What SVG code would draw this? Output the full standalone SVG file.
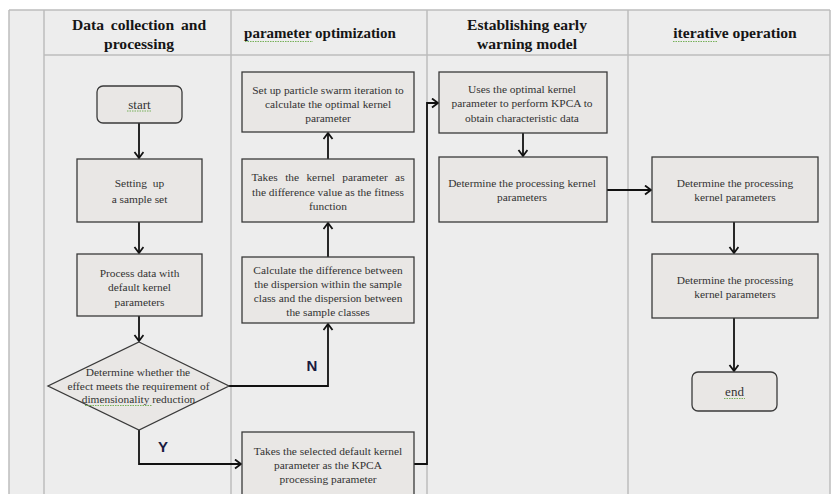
<svg xmlns="http://www.w3.org/2000/svg" width="834" height="494" viewBox="0 0 834 494">
<defs>
<style>
.bg{fill:#ededed}
.grid{stroke:#bdbdbd;stroke-width:1.5;fill:none}
.hdr{font-family:"Liberation Serif","Times New Roman",serif;font-weight:bold;font-size:15.6px;fill:#151515;text-anchor:middle}
.box{fill:#e9e7e5;stroke:#3a3a3a;stroke-width:1.3}
.t{font-family:"Liberation Serif","Times New Roman",serif;font-size:11.4px;fill:#333;text-anchor:middle}
.se{font-size:13px}
.yn{font-family:"Liberation Sans Narrow","Liberation Sans",Arial,sans-serif;font-weight:bold;font-size:15px;fill:#1a1a40;text-anchor:middle}
.c{fill:none;stroke:#111;stroke-width:1.8;marker-end:url(#ah)}
.sq{fill:none;stroke:#6aaa4a;stroke-width:0.9;stroke-dasharray:1.5 1}
</style>
<marker id="ah" markerUnits="userSpaceOnUse" markerWidth="12" markerHeight="12" refX="7" refY="5" orient="auto">
<path d="M1,0.5 L7,5 L1,9.5" fill="none" stroke="#111" stroke-width="1.8"/>
</marker>
</defs>
<rect x="0" y="0" width="834" height="494" fill="#ffffff"/>
<rect class="bg" x="9" y="10" width="821" height="484"/>
<g id="lanes">
<path class="grid" d="M9,10 H830 M9,10 V494 M830,10 V494 M44,10 V494 M231,10 V494 M427,10 V494 M628,10 V494 M44,55 H830"/>
<text class="hdr" x="139" y="30" word-spacing="3">Data collection and</text>
<text class="hdr" x="139" y="49">processing</text>
<text class="hdr" x="320" y="38" style="font-size:15px">parameter optimization</text>
<text class="hdr" x="527" y="30">Establishing early</text>
<text class="hdr" x="527" y="49">warning model</text>
<text class="hdr" x="735" y="38">iterative operation</text>
</g>
<g id="connectors">
<path class="c" d="M139,123 V158"/>
<path class="c" d="M139,222 V253"/>
<path class="c" d="M139,316 V341"/>
<path class="c" d="M229,386 H328 V324"/>
<path class="c" d="M139,430 V464 H241"/>
<path class="c" d="M328,257 V223"/>
<path class="c" d="M328,159 V133"/>
<path class="c" d="M414,464 H427 V103 H438"/>
<path class="c" d="M523,133 V156"/>
<path class="c" d="M607,190 H651"/>
<path class="c" d="M734,222 V253"/>
<path class="c" d="M734,318 V371"/>
<text class="yn" x="312" y="371">N</text>
<text class="yn" x="163" y="452">Y</text>
</g>
<g id="start">
<rect class="box" x="97" y="86" width="85" height="37" rx="6"/>
<text class="t se" x="139.5" y="108.5">start</text>
</g>
<g id="sampleset">
<rect class="box" x="77" y="159" width="125" height="63"/>
<text class="t" x="139.5" y="186.5" word-spacing="3">Setting up</text>
<text class="t" x="139.5" y="202.5">a sample set</text>
</g>
<g id="process">
<rect class="box" x="77" y="254" width="125" height="62"/>
<text class="t" x="139.5" y="277">Process data with</text>
<text class="t" x="139.5" y="291">default kernel</text>
<text class="t" x="139.5" y="306">parameters</text>
</g>
<g id="decision">
<polygon class="box" points="139,342 229,386 139,430 48,386"/>
<text class="t" x="138" y="376">Determine whether the</text>
<text class="t" x="138.5" y="389.5">effect meets the requirement of</text>
<text class="t" x="138.5" y="403">dimensionality reduction</text>
</g>
<g id="pso">
<rect class="box" x="242" y="72" width="172" height="60"/>
<text class="t" x="328" y="94">Set up particle swarm iteration to</text>
<text class="t" x="328" y="107.5">calculate the optimal kernel</text>
<text class="t" x="328" y="122">parameter</text>
</g>
<g id="fitness">
<rect class="box" x="242" y="159" width="172" height="63"/>
<text class="t" x="328" y="181" word-spacing="4.5">Takes the kernel parameter as</text>
<text class="t" x="328" y="196">the difference value as the fitness</text>
<text class="t" x="328" y="209.5">function</text>
</g>
<g id="calc">
<rect class="box" x="242" y="257" width="172" height="66"/>
<text class="t" x="328" y="274">Calculate the difference between</text>
<text class="t" x="328" y="288">the dispersion within the sample</text>
<text class="t" x="328" y="302">class and the dispersion between</text>
<text class="t" x="328" y="316">the sample classes</text>
</g>
<g id="default">
<rect class="box" x="242" y="432" width="172" height="70"/>
<text class="t" x="328" y="455">Takes the selected default kernel</text>
<text class="t" x="328" y="468.5">parameter as the KPCA</text>
<text class="t" x="328" y="483">processing parameter</text>
</g>
<g id="kpca">
<rect class="box" x="439" y="72" width="168" height="61"/>
<text class="t" x="522" y="93">Uses the optimal kernel</text>
<text class="t" x="522" y="107">parameter to perform KPCA to</text>
<text class="t" x="522" y="121.5">obtain characteristic data</text>
</g>
<g id="kernel1">
<rect class="box" x="439" y="157" width="168" height="65"/>
<text class="t" x="522" y="187">Determine the processing kernel</text>
<text class="t" x="522" y="201">parameters</text>
</g>
<g id="kernel2">
<rect class="box" x="652" y="157" width="166" height="65"/>
<text class="t" x="735" y="187">Determine the processing</text>
<text class="t" x="735" y="201">kernel parameters</text>
</g>
<g id="kernel3">
<rect class="box" x="652" y="254" width="166" height="64"/>
<text class="t" x="735" y="284">Determine the processing</text>
<text class="t" x="735" y="298">kernel parameters</text>
</g>
<g id="end">
<rect class="box" x="692" y="372" width="85" height="39" rx="6"/>
<text class="t se" x="734.5" y="396">end</text>
</g>
<g id="spellmarks">
<path class="sq" d="M127,111 H151"/>
<path class="sq" d="M245,41.5 H313"/>
<path class="sq" d="M673,41.5 H717"/>
<path class="sq" d="M85,405.5 H152"/>
<path class="sq" d="M724,398.5 H745"/>
</g>
</svg>
